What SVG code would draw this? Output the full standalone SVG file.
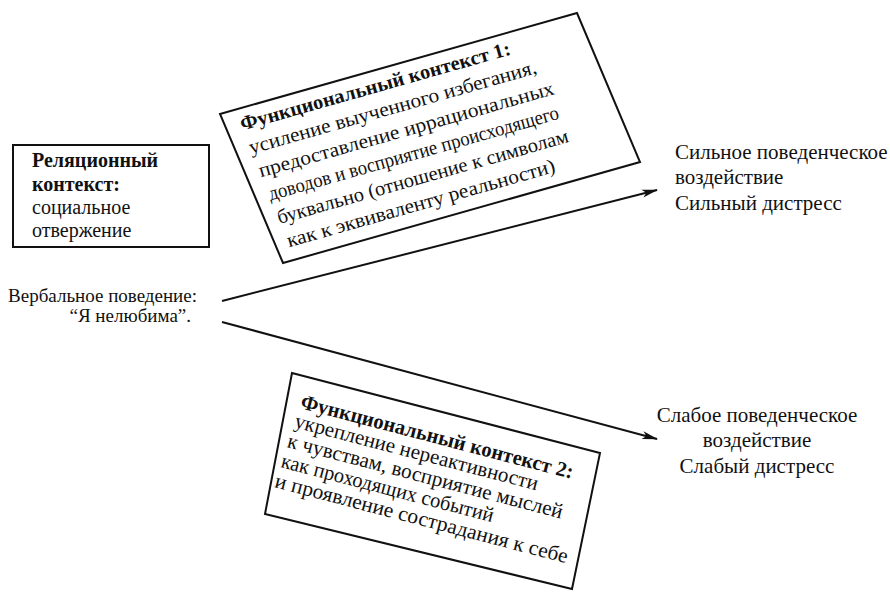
<svg xmlns="http://www.w3.org/2000/svg" width="890" height="593" viewBox="0 0 890 593">
  <style>
    text { font-family: "Liberation Serif", "Times New Roman", serif; fill: #111; }
    .b { font-weight: bold; }
    .box { fill: #fff; stroke: #111; stroke-width: 2; stroke-linejoin: miter; }
    .edge { stroke: #111; stroke-width: 2; fill: none; }
    .t19 { font-size: 19px; }
    .t20 { font-size: 20px; }
    .t21 { font-size: 21px; }
  </style>
  <defs>
    <marker id="arrow" markerWidth="16" markerHeight="10" refX="15" refY="5" orient="auto" markerUnits="userSpaceOnUse">
      <path d="M0,1 L16,5 L0,9 L4,5 Z" fill="#111"/>
    </marker>
  </defs>

  <!-- Relational context -->
  <g id="relational" class="t20">
    <rect class="box" x="13" y="145" width="196" height="102"/>
    <text class="b" x="32" y="167">Реляционный</text>
    <text class="b" x="32" y="191">контекст:</text>
    <text x="32" y="214">социальное</text>
    <text x="32" y="237">отвержение</text>
  </g>

  <!-- Verbal behaviour -->
  <g id="verbal" class="t19">
    <text x="197" y="302" text-anchor="end">Вербальное поведение:</text>
    <text x="191" y="322" text-anchor="end">“Я нелюбима”.</text>
  </g>

  <!-- Functional context 1 -->
  <g id="functional1">
    <polygon class="box" points="220,114 577,13 640,162 283,263"/>
    <g transform="translate(220,114) rotate(-15.8)" class="t20">
      <text class="b" x="17" y="22" textLength="280" lengthAdjust="spacingAndGlyphs">Функциональный контекст 1:</text>
      <text x="19" y="47" textLength="298" lengthAdjust="spacingAndGlyphs">усиление выученного избегания,</text>
      <text x="22" y="72" textLength="306" lengthAdjust="spacingAndGlyphs">предоставление иррациональных</text>
      <text x="25" y="97" textLength="301" lengthAdjust="spacingAndGlyphs">доводов и восприятие происходящего</text>
      <text x="27" y="122" textLength="302" lengthAdjust="spacingAndGlyphs">буквально (отношение к символам</text>
      <text x="30" y="147" textLength="278" lengthAdjust="spacingAndGlyphs">как к эквиваленту реальности)</text>
    </g>
  </g>

  <!-- Functional context 2 -->
  <g id="functional2">
    <polygon class="box" points="292,373 600,453 572,589 265,514"/>
    <g transform="translate(292,373) rotate(14.6)" class="t21">
      <text class="b" x="16" y="32" textLength="281" lengthAdjust="spacingAndGlyphs">Функциональный контекст 2:</text>
      <text x="15" y="52" textLength="251" lengthAdjust="spacingAndGlyphs">укрепление нереактивности</text>
      <text x="13" y="73" textLength="284" lengthAdjust="spacingAndGlyphs">к чувствам, восприятие мыслей</text>
      <text x="12" y="94" textLength="219" lengthAdjust="spacingAndGlyphs">как проходящих событий</text>
      <text x="11" y="115" textLength="302" lengthAdjust="spacingAndGlyphs">и проявление сострадания к себе</text>
    </g>
  </g>

  <!-- Strong outcome -->
  <g id="strong" class="t21">
    <text x="675" y="159">Сильное поведенческое</text>
    <text x="675" y="184">воздействие</text>
    <text x="675" y="210">Сильный дистресс</text>
  </g>

  <!-- Weak outcome -->
  <g id="weak" class="t21">
    <text x="757" y="422" text-anchor="middle">Слабое поведенческое</text>
    <text x="757" y="447" text-anchor="middle">воздействие</text>
    <text x="757" y="473" text-anchor="middle">Слабый дистресс</text>
  </g>

  <!-- Connectors -->
  <g id="connectors">
    <line class="edge" x1="222" y1="301" x2="657" y2="190" marker-end="url(#arrow)"/>
    <line class="edge" x1="222" y1="322" x2="657" y2="439" marker-end="url(#arrow)"/>
  </g>
</svg>
